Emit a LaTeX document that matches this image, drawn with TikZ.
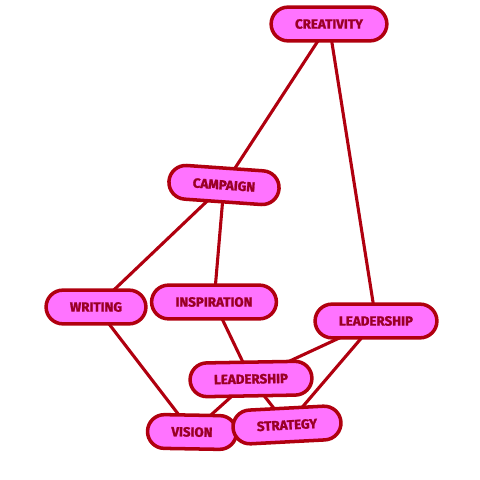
\documentclass[tikz,border=0pt]{standalone}
\usepackage{fontspec}
\setsansfont{Fira Sans}[BoldFeatures={FakeBold=1.6}]
\usepackage{tikz}
\usetikzlibrary{backgrounds}

\definecolor{pinkfill}{HTML}{FF73FF}
\definecolor{darkred}{HTML}{B0000F}
\definecolor{textred}{HTML}{9A0025}

\tikzset{
  pill/.style={draw=darkred, fill=pinkfill, line width=2.5pt, rounded corners=12pt,
    minimum height=24pt, inner xsep=17pt, text=textred,
    font=\sffamily\bfseries\fontsize{9.5}{9.5}\selectfont},
  link/.style={draw=darkred, line width=2.2pt}
}

\begin{document}
\begin{tikzpicture}[line cap=round,line join=round,x=1.0cm,y=1.0cm]
\useasboundingbox (0,0) rectangle (12,12);

\node[pill] (creativity) at (8.225, 11.4) {CREATIVITY};
\node[pill, rotate=-4] (campaign) at (5.6, 7.375) {CAMPAIGN};
\node[pill] (writing) at (2.4, 4.325) {WRITING};
\node[pill] (inspiration) at (5.35, 4.45) {INSPIRATION};
\node[pill] (leadershipR) at (9.4, 3.975) {LEADERSHIP};
\node[pill, rotate=1] (leadershipM) at (6.275, 2.525) {LEADERSHIP};
\node[pill, rotate=-1] (vision) at (4.8, 1.2) {VISION};
\node[pill, rotate=3] (strategy) at (7.175, 1.375) {STRATEGY};

\begin{pgfonlayer}{background}
\draw[link] (creativity.center) -- (campaign.center);
\draw[link] (creativity.center) -- (leadershipR.center);
\draw[link] (campaign.center) -- (writing.center);
\draw[link] (campaign.center) -- (inspiration.center);
\draw[link] (writing.center) -- (vision.center);
\draw[link] (inspiration.center) -- (leadershipM.center);
\draw[link] (leadershipR.center) -- (leadershipM.center);
\draw[link] (leadershipR.center) -- (strategy.center);
\draw[link] (leadershipM.center) -- (vision.center);
\draw[link] (leadershipM.center) -- (strategy.center);
\end{pgfonlayer}

\end{tikzpicture}
\end{document}
